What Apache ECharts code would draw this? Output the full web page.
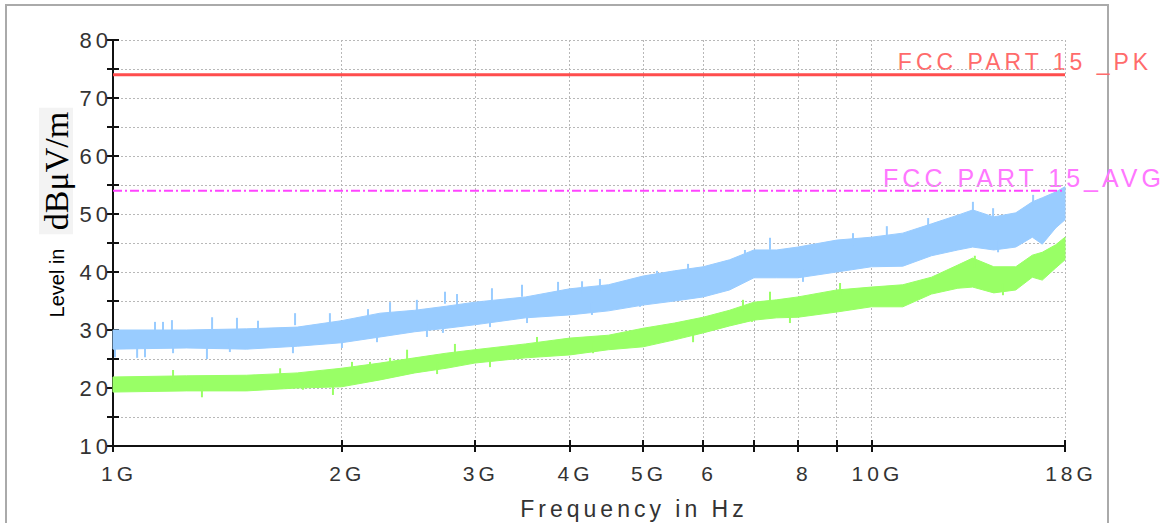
<!DOCTYPE html>
<html>
<head>
<meta charset="utf-8">
<title>Level in dBμV/m</title>
<script src="https://cdn.jsdelivr.net/npm/echarts@6/dist/echarts.min.js"></script>
<style>
  html, body { margin: 0; padding: 0; background: #fff; }
  #main { width: 1176px; height: 523px; }
  /* labels on the reference are spread out */
  #main text { letter-spacing: 4px; }
</style>
</head>
<body>
<div id="main"></div>
<script>
// frequencies in GHz
const freqGHz = [1.0, 1.25, 1.5, 1.75, 2.0, 2.25, 2.5, 2.75, 3.0, 3.5, 4.0, 4.5, 5.0, 5.5, 6.0, 6.5,
  7.0, 7.5, 8.0, 9.0, 10, 11, 12, 13, 13.6, 14.5, 15.5, 16.3, 16.8, 17.5, 18];

// peak trace (blue), upper and lower edge of the noise band, dBμV/m
const peakHigh = [30.0, 30.0, 30.2, 30.5, 31.6, 32.9, 33.4, 34.1, 34.8, 35.7, 37.1, 37.8, 39.3, 40.2, 40.9, 42.1,
  43.8, 43.8, 44.3, 45.5, 46.0, 46.7, 48.3, 49.8, 50.7, 49.5, 50.2, 52.1, 52.8, 53.8, 54.7];
const peakLow = [26.7, 26.9, 26.7, 27.2, 27.8, 28.8, 29.7, 30.3, 30.9, 32.1, 32.6, 33.3, 34.3, 35.0, 35.7, 36.9,
  39.0, 39.0, 39.0, 40.0, 40.9, 41.0, 42.8, 43.8, 44.3, 43.8, 44.3, 46.0, 44.8, 47.6, 49.0];

// average trace (green)
const avgHigh = [21.9, 22.1, 22.2, 22.6, 23.4, 24.3, 25.2, 26.0, 26.6, 27.6, 28.6, 29.1, 30.3, 31.2, 32.2, 33.4,
  34.8, 35.2, 35.7, 36.9, 37.4, 37.8, 39.1, 41.2, 42.4, 40.9, 40.9, 42.9, 43.4, 44.7, 46.0];
const avgLow = [19.3, 19.5, 19.5, 20.0, 20.2, 21.4, 22.6, 23.4, 24.3, 25.2, 25.7, 26.6, 27.1, 28.3, 29.5, 30.7,
  31.7, 32.1, 32.2, 33.1, 34.0, 34.0, 36.2, 37.2, 37.4, 36.4, 36.9, 39.1, 38.6, 40.7, 42.1];

// single spikes sticking out of the bands, [GHz, dBμV/m]
const peakSpikesUp = [[1.136, 31.4], [1.164, 31.4], [1.196, 31.7], [1.351, 32.2], [1.457, 32.1], [1.553, 31.6],
  [1.738, 32.9], [1.932, 32.9], [2.169, 33.6], [2.319, 34.8], [2.516, 35.2], [2.740, 36.6], [2.842, 36.2],
  [3.160, 37.2], [3.462, 37.8], [3.862, 38.3], [4.154, 38.4], [4.386, 38.8], [5.216, 40.2], [5.731, 41.4],
  [6.812, 43.8], [7.350, 45.9], [9.456, 46.7], [10.48, 47.9], [11.88, 49.3], [13.61, 52.1], [14.47, 51.0],
  [16.34, 53.3]];
const peakSpikesDown = [[1.006, 25.3], [1.076, 25.2], [1.102, 25.3], [1.200, 26.0], [1.330, 25.0], [1.426, 26.2],
  [1.727, 26.0], [2.004, 26.9], [2.229, 27.9], [2.594, 28.8], [2.723, 29.5], [3.141, 30.5], [3.515, 31.2],
  [4.281, 32.6], [4.953, 34.0], [8.124, 38.3], [14.69, 43.4]];
const avgSpikesUp = [[1.200, 23.1], [1.661, 23.4], [2.066, 24.5], [2.182, 24.5], [2.319, 25.2], [2.442, 26.6],
  [2.824, 27.6], [3.623, 28.8], [6.771, 35.2], [7.350, 36.6], [9.092, 38.1], [13.69, 42.8]];
const avgSpikesDown = [[1.310, 18.4], [1.780, 19.7], [1.950, 18.8], [2.675, 22.4], [3.141, 23.6], [4.295, 26.0],
  [5.819, 27.9], [6.959, 31.4], [7.809, 31.2], [14.91, 36.0]];

// limit lines
const limitFreq = [1, 18];
const pkLimit = [74, 74];
const avgLimit = [54, 54];

// axis ticks / labels
const xTickValues = [1, 2, 3, 4, 5, 6, 7, 8, 9, 10, 18];
const xLabelValues = [1, 2, 3, 4, 5, 6, 8, 10, 18];
const xLabels = ['1G', '2G', '3G', '4G', '5G', '6', '8', '10G', '18G'];

const sans = 'Liberation Sans, Arial, sans-serif';
const black = '#111';
const labelColor = '#333';
const blue = '#99ccff';
const green = '#99ff66';

function pairs(xs, ys) {
  return xs.map((x, i) => [x, ys[i]]);
}

// noise band: one polygon along the upper edge and back along the lower edge
function band(name, lo, hi, color) {
  return {
    name: name, type: 'custom', silent: true,
    data: freqGHz.map((f, i) => [f, lo[i], hi[i]]),
    encode: { x: 0, y: [1, 2] },
    renderItem: function (params, api) {
      if (params.dataIndex !== 0) return;
      const top = freqGHz.map((f, i) => api.coord([f, hi[i]]));
      const bottom = freqGHz.map((f, i) => api.coord([f, lo[i]])).reverse();
      return {
        type: 'polygon',
        shape: { points: top.concat(bottom) },
        style: { fill: color, stroke: color, lineWidth: 1 }
      };
    }
  };
}

// spikes: short vertical strokes from the spike value back into the band
function spikes(name, data, dir, color) {
  return {
    name: name, type: 'custom', silent: true,
    data: data,
    encode: { x: 0, y: 1 },
    renderItem: function (params, api) {
      const p = api.coord([api.value(0), api.value(1)]);
      return {
        type: 'line',
        shape: { x1: p[0], y1: p[1], x2: p[0], y2: p[1] + dir * 12 },
        style: { stroke: color, lineWidth: 2 }
      };
    }
  };
}

const chart = echarts.init(document.getElementById('main'), null, { renderer: 'svg' });

const option = {
  animation: false,
  backgroundColor: '#fff',
  textStyle: { fontFamily: sans },
  grid: { left: 113, right: 111, top: 40, bottom: 77, outerBoundsMode: 'none' },
  xAxis: [
    {
      type: 'log', logBase: 10, min: 1, max: 18, position: 'bottom',
      name: 'Frequency in Hz', nameLocation: 'middle', nameGap: 51,
      nameTextStyle: { fontSize: 23, color: labelColor, padding: [0, 0, 0, 90] },
      axisLine: { lineStyle: { color: black, width: 2 } },
      axisTick: { customValues: xTickValues, length: 6, lineStyle: { color: black, width: 2 } },
      axisLabel: {
        customValues: xLabelValues, fontSize: 21, color: labelColor, margin: 17, padding: [0, 0, 0, 12],
        formatter: v => xLabels[xLabelValues.indexOf(Math.round(v))] || ''
      },
      splitLine: { show: true, lineStyle: { color: '#b8b8b8', width: 1, type: [2, 2] } }
    },
    {
      // inner half of the x ticks
      type: 'log', logBase: 10, min: 1, max: 18, position: 'bottom',
      axisLine: { show: false },
      axisTick: { customValues: xTickValues, inside: true, length: 6, lineStyle: { color: black, width: 2 } },
      axisLabel: { show: false },
      splitLine: { show: false }
    }
  ],
  yAxis: [
    {
      type: 'value', min: 10, max: 80, interval: 5,
      axisLine: { show: true, lineStyle: { color: black, width: 2 } },
      axisTick: { show: true, length: 6, lineStyle: { color: black, width: 2 } },
      axisLabel: {
        fontSize: 22, color: labelColor, margin: 1,
        formatter: v => (v % 10 === 0 ? String(v) : '')
      },
      splitLine: { show: true, lineStyle: { color: '#b8b8b8', width: 1, type: [2, 2] } }
    },
    {
      // inner half of the y ticks
      type: 'value', min: 10, max: 80, interval: 5, position: 'left',
      axisLine: { show: false },
      axisTick: { show: true, inside: true, length: 6, lineStyle: { color: black, width: 2 } },
      axisLabel: { show: false },
      splitLine: { show: false }
    }
  ],
  graphic: [
    {
      type: 'rect', silent: true, z: -10,
      shape: { x: 6, y: 5, width: 1102, height: 530 },
      style: { fill: 'none', stroke: '#aaa', lineWidth: 2 }
    },
    {
      type: 'text', x: 57, y: 283, rotation: Math.PI / 2, silent: true,
      style: { text: 'Level in', fontSize: 20, fontFamily: sans, fill: '#000', align: 'center', verticalAlign: 'middle' }
    },
    {
      type: 'text', x: 56, y: 171, rotation: Math.PI / 2, silent: true,
      style: {
        text: 'dBμV/m', fontSize: 34, fontFamily: 'Liberation Serif, Times New Roman, serif', fill: '#000',
        align: 'center', verticalAlign: 'middle', backgroundColor: '#f3f3f3', padding: [0, 4]
      }
    },
    {
      type: 'text', x: 1025, y: 62, silent: true,
      style: { text: 'FCC PART 15 _PK', fontSize: 23, fontFamily: sans, fill: '#ff6b6b', align: 'center', verticalAlign: 'middle' }
    },
    {
      type: 'text', x: 1024, y: 178, silent: true,
      style: { text: 'FCC PART 15_AVG', fontSize: 25, fontFamily: sans, fill: '#ff77ff', align: 'center', verticalAlign: 'middle' }
    }
  ],
  series: [
    band('AVG', avgLow, avgHigh, green),
    spikes('AVG up', avgSpikesUp, 1, green),
    spikes('AVG down', avgSpikesDown, -1, green),
    band('PK', peakLow, peakHigh, blue),
    spikes('PK up', peakSpikesUp, 1, blue),
    spikes('PK down', peakSpikesDown, -1, blue),
    {
      name: 'FCC PART 15 _PK', type: 'line', symbol: 'none', silent: true,
      data: pairs(limitFreq, pkLimit),
      lineStyle: { color: '#ff4d4d', width: 3 }
    },
    {
      name: 'FCC PART 15_AVG', type: 'line', symbol: 'none', silent: true,
      data: pairs(limitFreq, avgLimit),
      lineStyle: { color: '#ff44ff', width: 2, type: [9, 3, 2, 3] }
    }
  ]
};

// the y axis name is not spread out
function fixNameSpacing() {
  document.querySelectorAll('#main text').forEach(t => {
    if (/Level|dB/.test(t.textContent)) t.style.letterSpacing = '0px';
  });
}
chart.on('finished', fixNameSpacing);
chart.setOption(option);
fixNameSpacing();
</script>
</body>
</html>
